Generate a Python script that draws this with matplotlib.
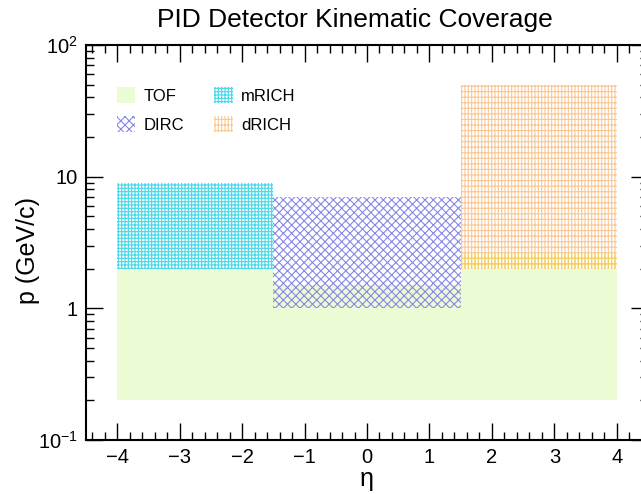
import matplotlib
matplotlib.use("Agg")
import matplotlib.pyplot as plt
from matplotlib.ticker import FixedLocator, FixedFormatter, MultipleLocator, LogLocator, NullFormatter

plt.rcParams["font.family"] = ["Liberation Sans", "DejaVu Sans"]
plt.rcParams["mathtext.fontset"] = "custom"
plt.rcParams["mathtext.rm"] = "Liberation Sans"
plt.rcParams["mathtext.it"] = "Liberation Sans:italic"
plt.rcParams["hatch.linewidth"] = 0.8

# detector coverage boxes: (eta_min, eta_max) and (p_min, p_max)
tof_eta = [(-4.0, -1.5), (-1.5, 1.5), (1.5, 4.0)]
tof_p = [(0.2, 2.0), (0.2, 1.5), (0.2, 2.0)]
mrich_eta = [(-4.0, -1.5)]
mrich_p = [(2.0, 9.0)]
dirc_eta = [(-1.5, 1.5)]
dirc_p = [(1.0, 7.0)]
drich_eta = [(1.5, 4.0), (1.5, 4.0)]
drich_p = [(2.0, 50.0), (2.0, 2.6)]

y_ticks = [0.1, 1, 10, 100]
y_ticklabels = [r"$\mathdefault{10^{-1}}$", "1", "10", r"$\mathdefault{10^{2}}$"]

# colours
TOF_COL = "#ebfbd3"
MRICH_COL = "#45d8e8"
DIRC_COL = "#8888e6"
DRICH_COL = "#f8c896"
DRICH_COL2 = "#f0d25a"


def draw_boxes(ax, etas, ps, label=None, **kw):
    for i, ((e0, e1), (p0, p1)) in enumerate(zip(etas, ps)):
        ax.bar(e0, p1 - p0, width=e1 - e0, bottom=p0, align="edge",
               label=label if i == 0 else None, **kw)


fig = plt.figure(figsize=(6.41, 4.94), dpi=100)
ax = fig.add_axes([86 / 641, 1 - 440 / 494, (648 - 86) / 641, (440 - 45) / 494])
ax.set_yscale("log")

draw_boxes(ax, tof_eta, tof_p, label="TOF", color=TOF_COL, linewidth=0)
draw_boxes(ax, dirc_eta, dirc_p, label="DIRC", facecolor="none",
           edgecolor=DIRC_COL, hatch="xxxx", linewidth=0)
draw_boxes(ax, mrich_eta, mrich_p, label="mRICH", facecolor="none",
           edgecolor=MRICH_COL, hatch="+++++", linewidth=0)
draw_boxes(ax, drich_eta[:1], drich_p[:1], label="dRICH", facecolor="none",
           edgecolor=DRICH_COL, hatch="|||||---", linewidth=0)
draw_boxes(ax, drich_eta[1:], drich_p[1:], facecolor="none",
           edgecolor=DRICH_COL2, hatch="|||||---", linewidth=0)

ax.set_xlim(-4.5, 4.5)
ax.set_ylim(0.1, 100)

ax.xaxis.set_major_locator(MultipleLocator(1))
ax.xaxis.set_minor_locator(MultipleLocator(0.2))
ax.yaxis.set_major_locator(FixedLocator(y_ticks))
ax.yaxis.set_major_formatter(FixedFormatter(y_ticklabels))
ax.yaxis.set_minor_locator(LogLocator(base=10, subs=range(2, 10)))
ax.yaxis.set_minor_formatter(NullFormatter())

ax.tick_params(which="both", direction="in", top=True, right=True, labelsize=14.5, width=1)
ax.tick_params(which="major", length=12, pad=6)
ax.tick_params(which="minor", length=6)
for s in ax.spines.values():
    s.set_linewidth(1.5)

ax.set_xlabel("η", fontsize=18, labelpad=0)
ax.set_ylabel("p (GeV/c)", fontsize=18)
ax.yaxis.set_label_coords(-0.082, 0.481)
fig.text(355 / 641, 1 - 20 / 494, "PID Detector Kinematic Coverage",
         ha="center", va="center", fontsize=19)

handles, labels = ax.get_legend_handles_labels()
order = ["TOF", "DIRC", "mRICH", "dRICH"]
hmap = dict(zip(labels, handles))
ax.legend([hmap[k] for k in order], order, ncol=2, frameon=False, fontsize=12,
          loc="upper left", bbox_to_anchor=(117 / 641, 1 - 87 / 494),
          bbox_transform=fig.transFigure, borderpad=0, borderaxespad=0,
          handlelength=1.1, handleheight=1.1, handletextpad=0.5,
          labelspacing=0.75, columnspacing=1.8)

fig.savefig("out.png", dpi=100)
